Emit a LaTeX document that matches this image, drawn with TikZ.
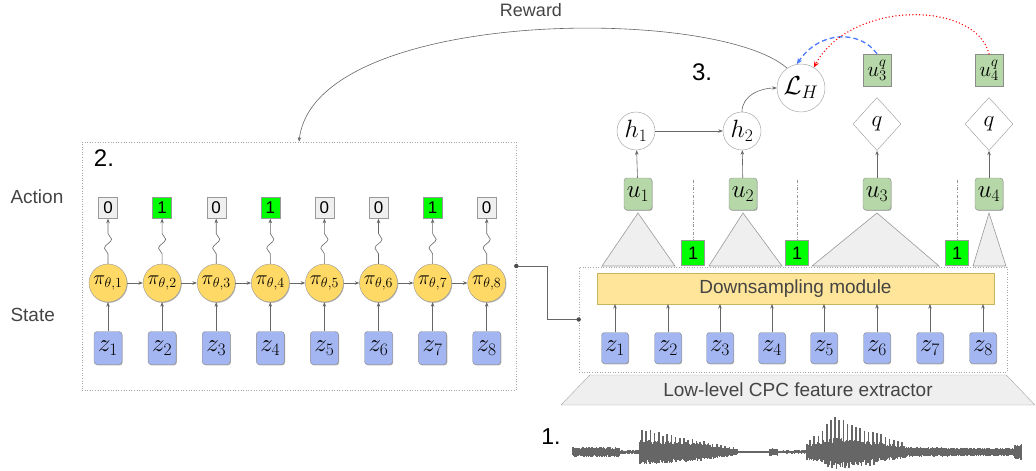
\RequirePackage{fix-cm}
\documentclass[tikz,border=0pt]{standalone}
\usepackage{fontspec}
\setmainfont{Liberation Sans}
\usetikzlibrary{arrows.meta,shapes.geometric,decorations.pathmorphing,shadows}
\definecolor{zblue}{HTML}{A4B6F2}
\definecolor{ugreen}{HTML}{B6D7A8}
\definecolor{piyellow}{HTML}{FFD966}
\definecolor{dsyellow}{HTML}{FFE599}
\definecolor{dsborder}{HTML}{C9B45E}
\definecolor{brightgreen}{HTML}{00FF00}
\definecolor{lightgrey}{HTML}{EFEFEF}
\definecolor{labelgrey}{HTML}{444444}
\definecolor{dashblue}{HTML}{4D79FF}
\definecolor{wavegrey}{HTML}{666666}
\newcommand{\wavesegment}[4]{%
  \pgfmathtruncatemacro{\wn}{(#2-#1)/0.9}%
  \foreach \i in {0,...,\wn}{%
    \pgfmathsetmacro{\xx}{#1+\i*0.9}%
    \pgfmathsetmacro{\wt}{(\xx-#1)/(#2-#1)}%
    \pgfmathsetmacro{\wa}{#3+(#4-#3)*\wt}%
    \pgfmathsetmacro{\wu}{\wa*(0.65+0.35*rnd)}%
    \pgfmathsetmacro{\wd}{\wa*(0.65+0.35*rnd)}%
    \draw[wave] (\xx,452-\wu) -- (\xx,452+\wd);
  }}
\newcommand{\spikesegment}[5]{%
  \pgfmathtruncatemacro{\wn}{(#2-#1)/4.2}%
  \foreach \i in {0,...,\wn}{%
    \pgfmathsetmacro{\xx}{#1+\i*4.2}%
    \pgfmathsetmacro{\wt}{(\xx-#1)/(#2-#1)}%
    \pgfmathsetmacro{\wa}{(#3+(#4-#3)*\wt)*(0.8+0.2*rnd)}%
    \draw[wave, line width=1.6pt] (\xx,452) -- (\xx,452+#5*\wa);
  }}
\tikzset{
  conn/.style={draw=black!60, line width=0.6pt, -{Stealth[length=4.5pt,width=3.5pt]}},
  shadowed/.style={drop shadow={shadow xshift=0.7pt, shadow yshift=-0.9pt, opacity=0.3, fill=black}},
  zbox/.style={draw=black!45, fill=zblue, rounded corners=3pt, minimum width=28pt, minimum height=33pt, inner sep=0pt, font=\fontsize{25}{27}\selectfont, shadowed},
  ubox/.style={draw=black!45, fill=ugreen, rounded corners=3pt, minimum width=28pt, minimum height=32pt, inner sep=0pt, font=\fontsize{25}{27}\selectfont, shadowed},
  uqbox/.style={draw=black!45, fill=ugreen, minimum width=28pt, minimum height=32pt, inner sep=0pt, font=\fontsize{21}{23}\selectfont, shadowed},
  pinode/.style={circle, draw=black!40, fill=piyellow, minimum size=38pt, inner sep=0pt, font=\fontsize{20}{22}\selectfont, shadowed},
  actzero/.style={draw=black!40, fill=lightgrey, minimum width=19pt, minimum height=21pt, inner sep=0pt, font=\fontsize{17}{18}\selectfont, shadowed},
  actone/.style={draw=black!40, fill=brightgreen, minimum width=19pt, minimum height=21pt, inner sep=0pt, font=\fontsize{17}{18}\selectfont},
  onebox/.style={draw=black!40, fill=brightgreen, minimum width=23pt, minimum height=25pt, inner sep=0pt, font=\fontsize{18}{19}\selectfont},
  hnode/.style={circle, draw=black!40, fill=white, minimum size=38pt, inner sep=0pt, font=\fontsize{25}{27}\selectfont},
  qnode/.style={diamond, draw=black!40, fill=white, minimum width=48pt, minimum height=53pt, inner sep=0pt, font=\fontsize{23}{25}\selectfont},
  tri/.style={draw=black!40, fill=lightgrey, line width=0.6pt},
  dotbox/.style={draw=black!35, dotted, line width=0.6pt},
  label/.style={text=labelgrey, font=\fontsize{19}{21}\selectfont},
  numlabel/.style={text=black, font=\fontsize{24}{26}\selectfont},
  snakearrow/.style={conn, decorate, decoration={snake, amplitude=3.6pt, segment length=18pt, pre length=10pt, post length=8pt}},
  wave/.style={draw=wavegrey, line width=1.2pt}
}
\begin{document}
\begin{tikzpicture}[x=1pt,y=-1pt]
\useasboundingbox (0,0) rectangle (1036,471);
\pgfmathsetseed{7}

% ---------------- Left panel ----------------
\node[dotbox, minimum width=434pt, minimum height=248pt, inner sep=0pt] (leftbox) at (299,266) {};
\node[numlabel] (two) at (104,158) {2.};
\node[label, anchor=west] (action) at (7,197) {Action};
\node[label, anchor=west] (state) at (7,315) {State};

\foreach \i/\a in {1/0,2/1,3/0,4/1,5/0,6/0,7/1,8/0}{
  \pgfmathsetmacro{\xc}{108+54.1*(\i-1)}
  \ifnum\a=1
    \node[actone] (a\i) at (\xc,208) {1};
  \else
    \node[actzero] (a\i) at (\xc,208) {0};
  \fi
  \node[pinode] (p\i) at (\xc,283) {$\pi_{\theta,\i}$};
  \node[zbox] (zl\i) at (\xc,348) {$z_{\i}$};
  \draw[conn] (zl\i) -- (p\i);
  \draw[snakearrow] (p\i.north) -- (a\i.south);
}
\foreach \i [evaluate=\i as \j using int(\i+1)] in {1,...,7}{
  \draw[conn] (p\i) -- (p\j);
}

% ---------------- Right panel ----------------
\node[dotbox, minimum width=428pt, minimum height=105pt, inner sep=0pt] (rightbox) at (793,319.5) {};
\node[draw=dsborder, fill=dsyellow, minimum width=397pt, minimum height=31pt, inner sep=0pt, text=labelgrey, font=\fontsize{19}{21}\selectfont] (ds) at (795.5,288.5) {Downsampling module};
\foreach \i/\xc in {1/615,2/668,3/720,4/772,5/824,6/877,7/930,8/983}{
  \node[zbox, minimum width=27pt, minimum height=31pt] (zr\i) at (\xc,348) {$z_{\i}$};
  \draw[conn] (zr\i.north) -- (\xc,304);
}

% connector between panels
\coordinate (bend1) at (547,266);
\draw[draw=black!60, line width=0.9pt] (leftbox.east) -- (bend1) |- (rightbox.west);
\fill[black!70] (leftbox.east) circle (2.2pt);
\fill[black!70] (rightbox.west) circle (2.2pt);

% triangles
\draw[tri] (602,266) -- (675,266) -- (638,213) -- cycle;
\draw[tri] (709,266) -- (782,266) -- (743,213) -- cycle;
\draw[tri] (812,266) -- (939,266) -- (877,213) -- cycle;
\draw[tri] (973,266) -- (1006,266) -- (989,213) -- cycle;

% u nodes
\node[ubox] (u1) at (638,194) {$u_1$};
\node[ubox] (u2) at (743,194) {$u_2$};
\node[ubox] (u3) at (877,194) {$u_3$};
\node[ubox] (u4) at (989,194) {$u_4$};

% boundary 1's
\node[onebox] (g1) at (693,253) {1};
\node[onebox] (g2) at (797,253) {1};
\node[onebox] (g3) at (957,253) {1};
\coordinate (d1) at (693,180);
\coordinate (d2) at (797,180);
\coordinate (d3) at (957,180);
\foreach \k in {1,2,3}{
  \draw[draw=black!40, dash dot, line width=0.6pt] (d\k) -- (g\k.north);
}

% h nodes, loss
\node[hnode] (h1) at (636,131) {$h_1$};
\node[hnode] (h2) at (742,131) {$h_2$};
\node[circle, draw=black!40, fill=white, minimum size=48pt, inner sep=0pt, font=\fontsize{26}{28}\selectfont] (LH) at (801,88) {$\mathcal{L}_H$};
\node[numlabel] (three) at (702,72) {3.};
\draw[conn] (u1) -- (h1);
\draw[conn] (u2) -- (h2);
\draw[conn] (h1) -- (h2);
\draw[conn] (h2.north) to[out=90, in=180] (LH.west);

% q nodes
\node[qnode] (q3) at (877,124) {$q$};
\node[qnode] (q4) at (989,124) {$q$};
\draw[conn] (u3) -- (q3);
\draw[conn] (u4) -- (q4);
\node[uqbox] (uq3) at (877,70) {$u_3^q$};
\node[uqbox] (uq4) at (989,70) {$u_4^q$};

\draw[draw=dashblue, line width=1.3pt, dash pattern=on 5pt off 3pt, -{Stealth[length=6pt,width=5pt]}] (uq3.north) .. controls (860,30) and (820,30) .. (LH.100);
\draw[draw=red, line width=1.5pt, line cap=round, dash pattern=on 0pt off 3.4pt, -{Stealth[length=6pt,width=5pt]}] (uq4.north) .. controls (975,0) and (850,0) .. (LH.58);

% Reward
\draw[conn] (LH.125) .. controls (715,5) and (315,8) .. (leftbox.north);
\node[label, font=\fontsize{18}{20}\selectfont] (reward) at (531,10) {Reward};

% feature extractor
\node[draw=black!35, fill=lightgrey, trapezium, trapezium stretches=true, trapezium left angle=37, trapezium right angle=37, minimum width=476pt, minimum height=30pt, inner sep=0pt, text=labelgrey, font=\fontsize{19}{21}\selectfont] (cpc) at (798,390) {Low-level CPC feature extractor};

% waveform
\node[numlabel, font=\fontsize{23}{25}\selectfont] (one) at (551,437) {1.};
\wavesegment{573}{620}{5}{5}
\wavesegment{620}{640}{2}{2}
\wavesegment{640}{700}{13}{9}
\wavesegment{700}{737}{9}{3}
\wavesegment{737}{770}{1}{1}
\wavesegment{770}{778}{4}{4}
\wavesegment{778}{807}{1.5}{2}
\wavesegment{807}{840}{9}{15}
\wavesegment{840}{907}{15}{6}
\wavesegment{907}{1015}{5}{4}
\wavesegment{1015}{1022}{8}{8}
\spikesegment{642}{700}{24}{12}{-1}
\spikesegment{700}{735}{12}{5}{-1}
\spikesegment{810}{835}{12}{37}{-1}
\spikesegment{835}{905}{37}{10}{-1}
\spikesegment{828}{878}{18}{13}{1}
\end{tikzpicture}
\end{document}
